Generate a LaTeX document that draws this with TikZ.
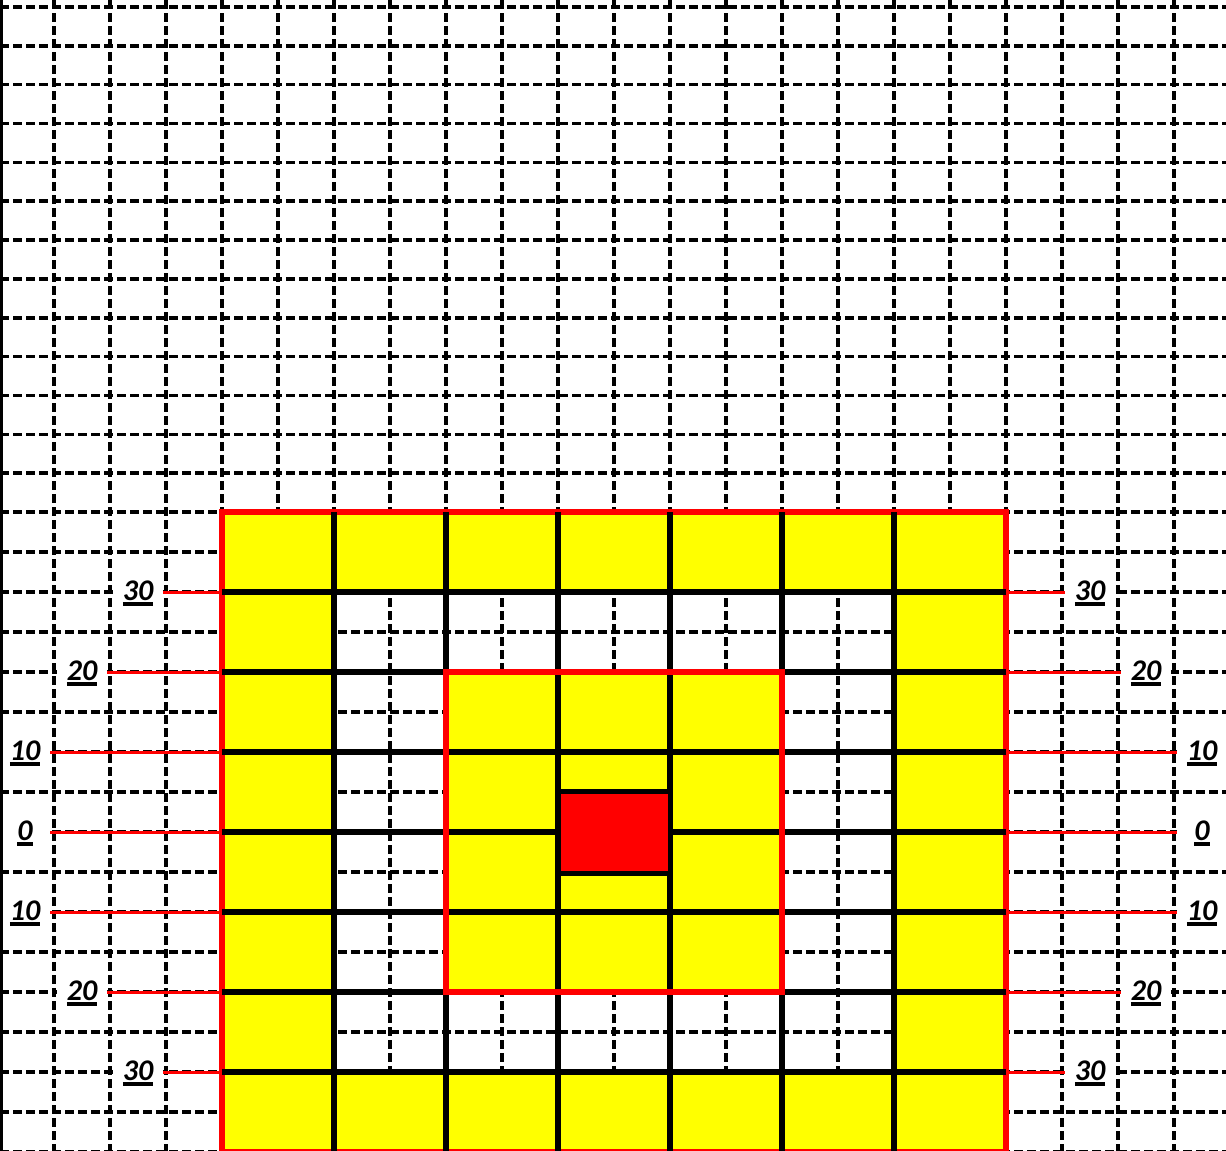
\documentclass[tikz,border=0pt]{standalone}
\usepackage{fontspec}
\setmainfont{Carlito}
\usetikzlibrary{positioning}
\definecolor{cellyellow}{RGB}{255,255,0}
\definecolor{rimred}{RGB}{255,0,0}
\newcommand{\ulnum}[1]{\setbox0=\hbox{#1}\copy0\kern-\wd0\vrule width\wd0 height -2pt depth 5.5pt\relax}

\begin{document}
\begin{tikzpicture}[
  x=1pt, y=-1pt,
  dashline/.style={line width=3.5pt, dash pattern=on 9pt off 4pt},
  bar/.style={line width=6pt},
  rim/.style={draw=rimred, line width=6pt, inner sep=0pt},
  tick/.style={rimred, line width=3pt},
  lab/.style={fill=white, minimum width=50pt, inner sep=1pt,
              text height=23pt, text depth=7pt,
              font=\fontsize{30}{32}\selectfont\bfseries\itshape}]
\useasboundingbox (0,0) rectangle (1226,1151);
% dashed background grid
\foreach \x in {54,110,...,1174} \draw[dashline] (\x,0) -- (\x,1151);
\foreach \k in {1,...,13} \draw[dashline] (0,{512-38.85*\k}) -- (1226,{512-38.85*\k});
\foreach \y in {512,552,...,1152} \draw[dashline] (0,\y) -- (1226,\y);
% yellow rings
\fill[cellyellow, even odd rule] (222,512) rectangle (1006,1152) (334,592) rectangle (894,1072);
\fill[cellyellow] (446,672) rectangle (782,992);
\node[rim, minimum width=784pt, minimum height=640pt] (outer) at (614,832) {};
\foreach \y in {592,672,...,1072} \draw[bar] (222,\y) -- (1006,\y);
\foreach \x in {334,446,...,894} \draw[bar] (\x,512) -- (\x,1152);
\node[rim, minimum width=336pt, minimum height=320pt] (inner) at (614,832) {};
\node[draw=black, line width=5pt, fill=rimred, inner sep=0pt,
      minimum width=112pt, minimum height=82pt] (core) at (614,832) {};
% distance labels, left
\node[lab] (l30a) at (138,592) {\ulnum{30}};
\node[lab] (l20a) at (82,672) {\ulnum{20}};
\node[lab] (l10a) at (25,752) {\ulnum{10}};
\node[lab] (l0) at (25,832) {\ulnum{0}};
\node[lab] (l10b) at (25,912) {\ulnum{10}};
\node[lab] (l20b) at (82,992) {\ulnum{20}};
\node[lab] (l30b) at (138,1072) {\ulnum{30}};
% distance labels, right
\node[lab] (r30a) at (1090,592) {\ulnum{30}};
\node[lab] (r20a) at (1146,672) {\ulnum{20}};
\node[lab] (r10a) at (1202,752) {\ulnum{10}};
\node[lab] (r0) at (1202,832) {\ulnum{0}};
\node[lab] (r10b) at (1202,912) {\ulnum{10}};
\node[lab] (r20b) at (1146,992) {\ulnum{20}};
\node[lab] (r30b) at (1090,1072) {\ulnum{30}};
\foreach \n in {l30a,l20a,l10a,l0,l10b,l20b,l30b}
  \draw[tick] (\n.east) -- (\n.east -| outer.west);
\foreach \n in {r30a,r20a,r10a,r0,r10b,r20b,r30b}
  \draw[tick] (\n.west) -- (\n.west -| outer.east);
\draw[line width=3pt] (1.5,0) -- (1.5,1151);
\end{tikzpicture}
\end{document}
